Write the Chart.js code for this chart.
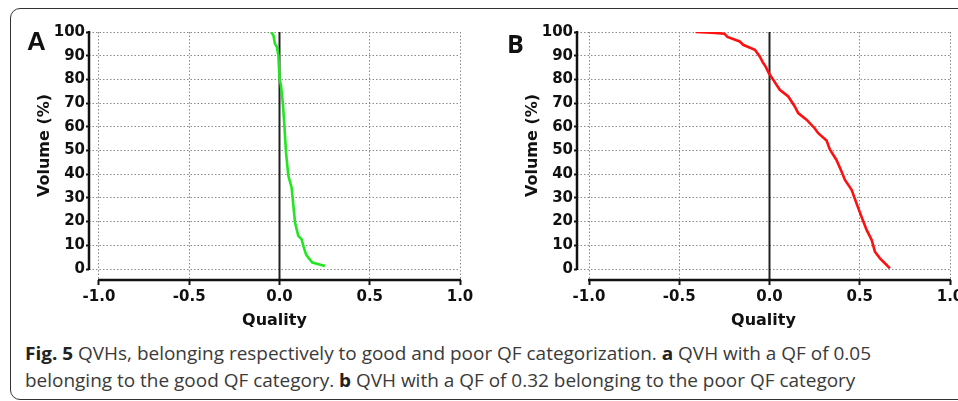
<!DOCTYPE html>
<html>
<head>
<meta charset="utf-8">
<script src="https://cdn.jsdelivr.net/npm/chart.js@4/dist/chart.umd.min.js"></script>
<style>
  body { margin: 0; background: #fff; width: 958px; height: 401px; overflow: hidden; position: relative; }
  .frame { position: absolute; left: 10px; top: 8px; width: 1000px; height: 390px; border: 1.5px solid #333; border-radius: 10px; }
  canvas { position: absolute; top: 0; }
  #chartA { left: 0; }
  #chartB { left: 488px; }
  .panel { position: absolute; font-weight: bold; line-height: 1; color: #111; }
  #labelA { left: 27px; top: 26px; font: bold 26px "Liberation Sans", Arial, sans-serif; }
  #labelB { left: 507px; top: 26px; font: bold 25px "Open Sans", sans-serif; }
  #caption { position: absolute; left: 25px; top: 340px; font: 18px "Open Sans", sans-serif; line-height: 27px;
             color: #3a3a3a; white-space: nowrap; transform-origin: 0 0; }
  #caption b { color: #222; }
</style>
</head>
<body>
<div class="frame"></div>
<canvas id="chartA" width="480" height="331"></canvas>
<canvas id="chartB" width="470" height="331"></canvas>
<div class="panel" id="labelA">A</div>
<div class="panel" id="labelB">B</div>
<div id="caption">
  <span id="line1"><b>Fig. 5</b> QVHs, belonging respectively to good and poor QF categorization. <b>a</b> QVH with a QF of 0.05</span><br>
  <span>belonging to the good QF category. <b>b</b> QVH with a QF of 0.32 belonging to the poor QF category</span>
</div>
<script>
// panel A: good QF (0.05)
const qualityA = [-0.047, -0.034, -0.025, -0.014, -0.006, 0.000, 0.008, 0.019, 0.027, 0.036,
                  0.049, 0.067, 0.077, 0.086, 0.104, 0.123, 0.132, 0.147, 0.160, 0.182, 0.252];
const volumeA  = [100, 98.6, 95, 93.6, 90, 80.2, 77.4, 69.6, 60.5, 49.2,
                  39.3, 34.4, 26.6, 19.6, 14, 12.5, 9.7, 6.2, 4.8, 2.7, 1.3];

// panel B: poor QF (0.32)
const qualityB = [-0.41, -0.32, -0.25, -0.233, -0.165, -0.146, -0.081, -0.054, -0.035, -0.022,
                  -0.004, 0.02, 0.057, 0.104, 0.14, 0.159, 0.205, 0.25, 0.27, 0.316,
                  0.335, 0.371, 0.399, 0.418, 0.455, 0.482, 0.51, 0.538, 0.566, 0.584,
                  0.612, 0.649, 0.667];
const volumeB  = [100, 99.7, 99.3, 97.9, 96, 94.6, 92.5, 89.7, 86.9, 85.5,
                  82.7, 79.9, 75.6, 72.8, 68.6, 65.8, 63, 59.4, 57.3, 54.2,
                  50.3, 46, 41.1, 37.6, 33.4, 27.7, 22, 16.5, 12.3, 7.3,
                  4.5, 1.7, 0.3];

const xTicks = [-1.0, -0.5, 0.0, 0.5, 1.0];
const yTicks = [0, 10, 20, 30, 40, 50, 60, 70, 80, 90, 100];
const xTitle = 'Quality';
const yTitle = 'Volume (%)';

const FONT = '"DejaVu Sans", Verdana, sans-serif';
const INK = '#111';

// axes are drawn detached from the plot (Prism style), so the scales run a bit past -1 and 0
const Y_MIN = -4.64;

const axisLines = {
  id: 'axisLines',
  beforeDatasetsDraw(chart) {
    const { ctx, chartArea, scales: { x, y } } = chart;
    const x0 = x.getPixelForValue(0);
    ctx.save();
    ctx.strokeStyle = '#222';
    ctx.lineWidth = 2;
    ctx.beginPath();
    ctx.moveTo(x0, y.getPixelForValue(100));
    ctx.lineTo(x0, chartArea.bottom);
    ctx.stroke();
    ctx.restore();
  },
  afterDraw(chart) {
    const { ctx, chartArea, scales: { x, y } } = chart;
    ctx.save();
    ctx.strokeStyle = INK;
    ctx.lineWidth = 2.5;
    ctx.beginPath();
    ctx.moveTo(chartArea.left, y.getPixelForValue(100) - 1);
    ctx.lineTo(chartArea.left, y.getPixelForValue(0) + 1);
    ctx.moveTo(x.getPixelForValue(-1) - 1, chartArea.bottom);
    ctx.lineTo(x.getPixelForValue(1) + 1, chartArea.bottom);
    ctx.stroke();

    // y title sits a little above the middle of the 0-100 axis in the original
    const cy = (y.getPixelForValue(100) + y.getPixelForValue(0)) / 2 - 5;
    ctx.translate(y.left + 10, cy);
    ctx.rotate(-Math.PI / 2);
    ctx.fillStyle = INK;
    ctx.font = 'bold 16px ' + FONT;
    ctx.textAlign = 'center';
    ctx.textBaseline = 'middle';
    ctx.fillText(yTitle, 0, 0);
    ctx.restore();
  }
};

function makeChart(id, xs, ys, color, xMin, padRight) {
  const points = xs.map((q, i) => ({ x: q, y: ys[i] }));
  return new Chart(document.getElementById(id), {
    type: 'scatter',
    data: {
      datasets: [{
        data: points,
        showLine: true,
        borderColor: color,
        borderWidth: 2.6,
        pointRadius: 0,
        fill: false,
        tension: 0
      }]
    },
    options: {
      responsive: false,
      animation: false,
      events: [],
      layout: { padding: { left: 35, right: padRight, top: 32, bottom: 0 } },
      plugins: { legend: { display: false }, tooltip: { enabled: false } },
      scales: {
        x: {
          type: 'linear',
          min: xMin,
          max: 1,
          afterBuildTicks: s => { s.ticks = xTicks.map(v => ({ value: v })); },
          afterFit: s => { s.height = 51; s.paddingLeft = 0; s.paddingRight = 0; },
          grid: { color: '#8a8a8a', lineWidth: 1, tickColor: INK, tickWidth: 2, tickLength: 5, tickBorderDash: [] },
          border: { display: false, dash: [1.5, 2] },
          ticks: {
            color: INK, padding: 3, maxRotation: 0, autoSkip: false,
            font: { family: FONT, size: 15, weight: 'bold' },
            callback: v => v.toFixed(1)
          },
          title: { display: true, text: xTitle, color: INK, padding: { top: 0, bottom: 1 },
                   font: { family: FONT, size: 16, weight: 'bold' } }
        },
        y: {
          type: 'linear',
          min: Y_MIN,
          max: 100,
          afterBuildTicks: s => { s.ticks = yTicks.map(v => ({ value: v })); },
          afterFit: s => { s.width = 54; s.paddingTop = 0; s.paddingBottom = 0; },
          grid: { color: '#8a8a8a', lineWidth: 1, tickColor: INK, tickWidth: 2, tickLength: 3, tickBorderDash: [] },
          border: { display: false, dash: [1.5, 2] },
          ticks: {
            color: INK, padding: 1, autoSkip: false,
            font: { family: FONT, size: 15, weight: 'bold' },
            callback: v => String(v)
          },
          title: { display: false }
        }
      }
    },
    plugins: [axisLines]
  });
}

makeChart('chartA', qualityA, volumeA, '#22e622', -1.0554, 20);
makeChart('chartB', qualityB, volumeB, '#ff1010', -1.0665, 8);

// squeeze caption to the width of the original (condensed) typeface
const cap = document.getElementById('caption');
const w = document.getElementById('line1').getBoundingClientRect().width;
cap.style.transform = 'scaleX(' + (846 / w) + ')';
</script>
</body>
</html>
